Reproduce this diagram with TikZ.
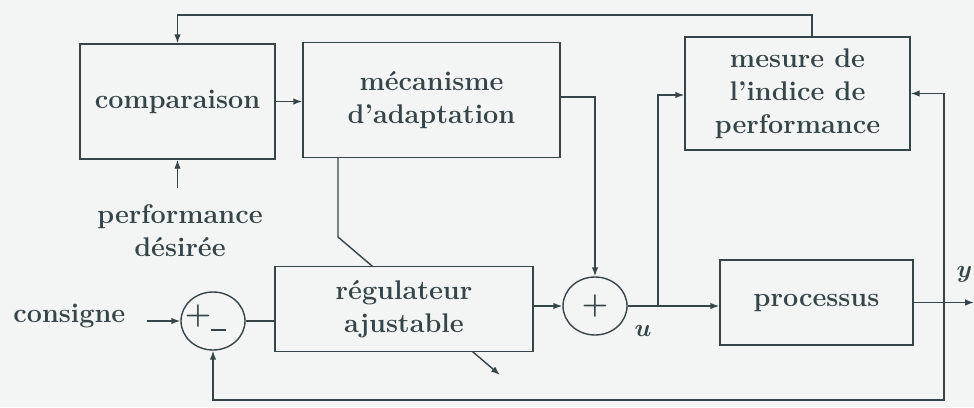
\documentclass[tikz,border=0pt]{standalone}
\usepackage{fontspec}
\setmainfont{Latin Modern Roman}
\usetikzlibrary{arrows.meta,shapes.geometric}
\definecolor{ink}{HTML}{36454A}
\definecolor{paper}{HTML}{F3F5F4}
\newcommand{\lblfont}{\fontsize{27}{33}\selectfont\bfseries}

\begin{document}
\begin{tikzpicture}[x=1pt,y=-1pt,line width=1.4pt,color=ink,
    blk/.style={draw=ink,fill=paper,rectangle,align=center,font=\lblfont,
                text=ink,inner sep=0pt},
    sumnode/.style={draw=ink,fill=paper,ellipse,inner sep=0pt,
                    minimum width=64pt,minimum height=58pt},
    lbl/.style={font=\lblfont,text=ink,align=center,inner sep=0pt},
    sign/.style={inner sep=0pt,text=ink,font=\fontsize{30}{30}\selectfont\bfseries},
    var/.style={inner sep=0pt,text=ink,font=\fontsize{27}{27}\selectfont\boldmath},
    arr/.style={-{Latex[length=9pt,width=6.5pt]}}]

  % sheet
  \fill[paper] (0,0) rectangle (974,407);
  \clip (0,0) rectangle (974,407);

  % upper row of blocks
  \node[blk,minimum width=195pt,minimum height=115pt] (cmp) at (177.5,101.5) {comparaison};
  \node[blk,minimum width=257pt,minimum height=115pt] (mec) at (431.5,100) {mécanisme\\d'adaptation};
  \node[blk,minimum width=225pt,minimum height=113pt] (mes) at (797.5,93.5) {mesure de\\l'indice de\\performance};

  % adjustment arrow crossing the controller
  \coordinate (bend) at (338,237);
  \coordinate (tipadj) at (500,375);
  \draw[arr] ([xshift=-93.5pt]mec.south) -- (bend) -- (tipadj);

  % lower row
  \node[blk,minimum width=258pt,minimum height=85pt] (reg) at (404,309) {régulateur\\ajustable};
  \node[blk,minimum width=193pt,minimum height=85pt] (proc) at (816.5,302.5) {processus};
  \node[sumnode] (s1) at (213,321) {};
  \node[sumnode] (s2) at (595,306) {};

  % signs in the summing junctions
  \node[sign] (p1) at (198,316) {+};
  \node[sign,minimum width=15pt,minimum height=2pt] (m1) at (218,330) {\rule{15pt}{1.8pt}};
  \node[sign] (p2) at (595,306) {+};

  % labels
  \node[lbl] (perf) at (180,231) {performance\\désirée};
  \node[lbl,anchor=east] (cons) at (126,316) {consigne};
  \node[var] (u) at (643,331) {$u$};
  \node[var,anchor=east] (y) at (973,274) {$y$};

  % connectors
  \coordinate (topline) at (0,15);
  \draw[arr] ([xshift=14.5pt]mes.north) |- (topline -| cmp.north) -- (cmp.north);
  \draw[arr] ([yshift=-28pt]cmp.south) -- (cmp.south);
  \draw[arr] (cmp.east) -- (cmp.east -| mec.west);
  \draw[arr] ([yshift=3pt]mec.east) -| (s2.north);

  \coordinate (cin) at (147,321);
  \draw[arr] (cin) -- (s1.west);
  \draw (s1.east) -- (s1.east -| reg.west);
  \draw[arr] (s2.west -| reg.east) -- (s2.west);
  \draw[arr] (s2.east) -- (s2.east -| proc.west);

  \coordinate (j1) at (658,306);
  \draw[arr] (j1) |- ([yshift=-1.5pt]mes.west);

  \coordinate (yout) at (974,302.5);
  \draw[arr] (proc.east) -- (yout);
  \coordinate (j2) at (944,302.5);
  \coordinate (bot) at (944,400);
  \draw[arr] (j2) |- (mes.east);
  \draw[arr] (j2) -- (bot) -| (s1.south);
\end{tikzpicture}
\end{document}
